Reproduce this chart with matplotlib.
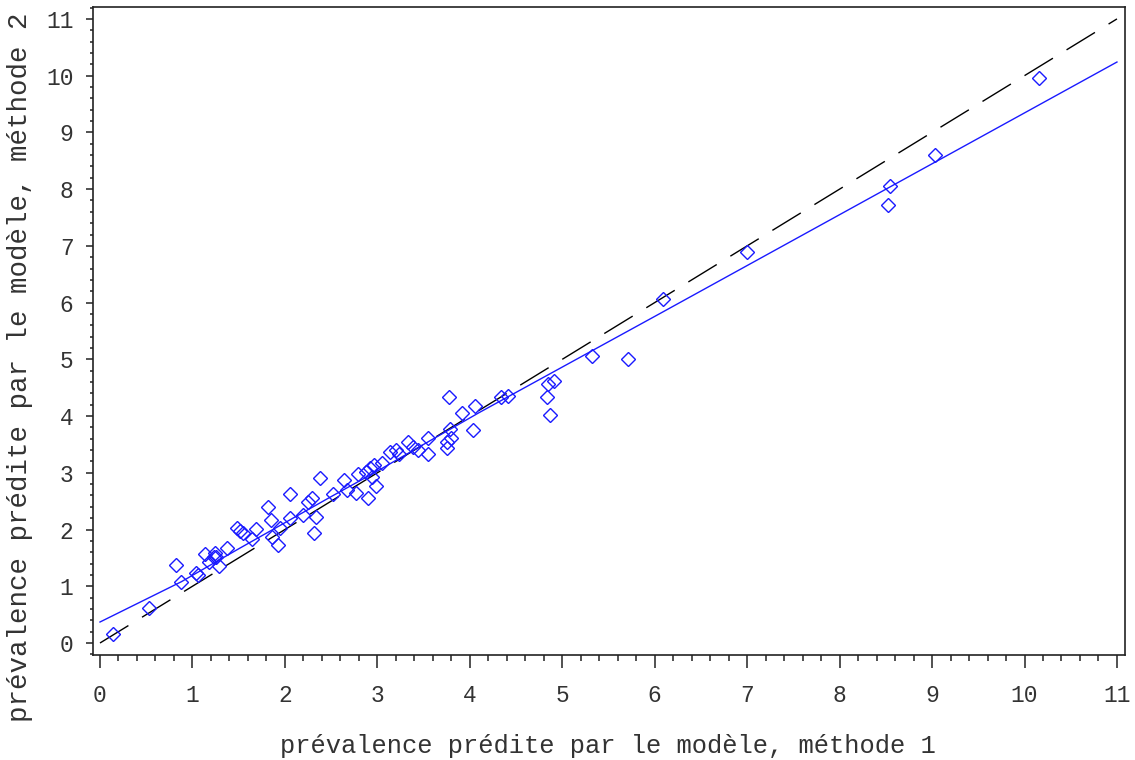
import numpy as np
import matplotlib
matplotlib.use("Agg")
import matplotlib.pyplot as plt
from matplotlib.ticker import MultipleLocator

# points (methode 1, methode 2)
x_m1 = [0.14, 0.53, 0.82, 0.88, 1.04, 1.06, 1.14, 1.18, 1.23, 1.24, 1.26, 1.29,
        1.37, 1.48, 1.51, 1.55, 1.64, 1.69, 1.82, 1.85, 1.86, 1.92, 1.95, 2.05,
        2.05, 2.20, 2.25, 2.29, 2.34, 2.32, 2.38, 2.52, 2.64, 2.67, 2.77, 2.79,
        2.90, 2.88, 2.92, 2.94, 2.96, 2.99, 3.05, 3.14, 3.20, 3.23, 3.33, 3.39,
        3.44, 3.55, 3.55, 3.75, 3.75, 3.78, 3.79, 3.80, 3.92, 4.06, 4.04, 4.34,
        4.41, 4.83, 4.85, 4.91, 4.87, 5.32, 5.71, 6.09, 7.00, 8.52, 8.55, 9.03,
        10.16]
y_m2 = [0.16, 0.61, 1.37, 1.07, 1.24, 1.19, 1.57, 1.43, 1.51, 1.58, 1.52, 1.36,
        1.68, 2.02, 1.98, 1.94, 1.83, 2.01, 2.39, 2.16, 1.87, 1.73, 2.02, 2.62,
        2.20, 2.26, 2.49, 2.55, 2.22, 1.94, 2.90, 2.63, 2.87, 2.70, 2.64, 2.98,
        2.55, 3.02, 3.08, 2.93, 3.14, 2.77, 3.17, 3.37, 3.40, 3.34, 3.55, 3.46,
        3.40, 3.61, 3.34, 3.55, 3.43, 4.33, 3.78, 3.61, 4.05, 4.18, 3.75, 4.33,
        4.35, 4.34, 4.57, 4.62, 4.02, 5.05, 5.00, 6.06, 6.89, 7.72, 8.06, 8.61,
        9.95]

# smoothed fit (blue curve)
fit_x = [0, 0.88, 1.5, 2.0, 2.5, 3.0, 3.5, 4.1, 6.06, 11.0]
fit_y = [0.37, 1.08, 1.66, 2.12, 2.58, 3.03, 3.50, 4.06, 5.81, 10.24]

# identity line
ref_x = [0, 11]
ref_y = [0, 11]

xlabel = "prévalence prédite par le modèle, méthode 1"
ylabel = "prévalence prédite par le modèle, méthode 2"

plt.rcParams['font.family'] = ['Liberation Mono', 'DejaVu Sans Mono']

fig = plt.figure(figsize=(11.35, 7.6), dpi=100)
ax = fig.add_axes([93 / 1135, 1 - 655 / 760, 1032 / 1135, 648 / 760])

ax.plot(ref_x, ref_y, color='black', lw=1.0, linestyle=(0, (24, 11.5)))
ax.plot(fit_x, fit_y, color='#1a1aff', lw=1.0)
ax.plot(x_m1, y_m2, linestyle='none', marker='D', markersize=7.5,
        markerfacecolor='none', markeredgecolor='#1a1aff', markeredgewidth=1.0)

ax.set_xlim(-0.0757, 11.087)
ax.set_ylim(-0.2115, 11.21)

ax.xaxis.set_major_locator(MultipleLocator(1))
ax.xaxis.set_minor_locator(MultipleLocator(0.2))
ax.yaxis.set_major_locator(MultipleLocator(1))
ax.yaxis.set_minor_locator(MultipleLocator(0.2))

ax.tick_params(axis='x', which='major', direction='out', length=9, width=1.2,
               pad=12, labelsize=16.5, colors='#333333')
ax.tick_params(axis='x', which='minor', direction='out', length=4.5, width=1.2,
               colors='#333333')
ax.tick_params(axis='y', which='major', direction='out', length=5, width=1.2,
               pad=9, labelsize=16.5, colors='#333333')
ax.tick_params(axis='y', which='minor', direction='out', length=2.5, width=1.2,
               colors='#333333')

for sp in ax.spines.values():
    sp.set_linewidth(1.2)
    sp.set_color('#222222')

fig.text(608 / 1135, 1 - 746 / 760, xlabel, ha='center', va='center',
         fontsize=18.4, color='#333333')
fig.text(20 / 1135, 1 - 367 / 760, ylabel, ha='center', va='center',
         rotation=90, fontsize=19.8, color='#333333')

fig.savefig("out.png", dpi=100)
